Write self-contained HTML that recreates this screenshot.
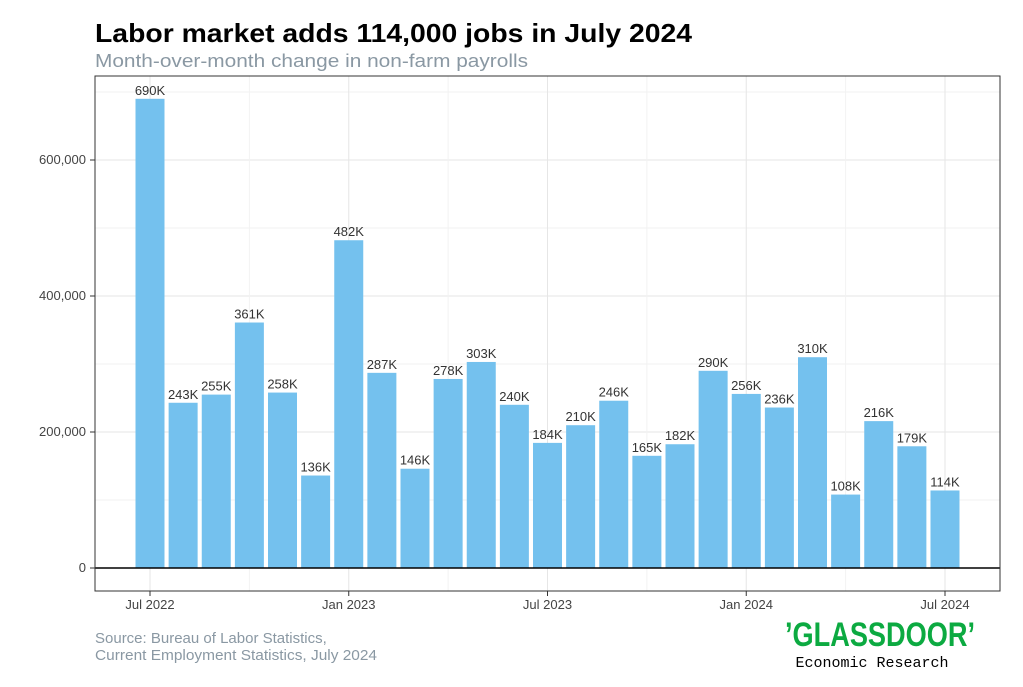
<!DOCTYPE html>
<html><head><meta charset="utf-8"><style>
body{margin:0;background:#fff;font-family:"Liberation Sans",sans-serif;}
svg text{font-family:"Liberation Sans",sans-serif;}
</style></head><body>
<svg width="1023" height="682" xmlns="http://www.w3.org/2000/svg">
<text x="95" y="42" font-size="26" font-weight="bold" fill="#000" textLength="597" lengthAdjust="spacingAndGlyphs">Labor market adds 114,000 jobs in July 2024</text>
<text x="95" y="67" font-size="18" fill="#8a98a3" textLength="433" lengthAdjust="spacingAndGlyphs">Month-over-month change in non-farm payrolls</text>
<g id="grid"></g>
<g id="bars"></g>
<g id="labels"></g>
<line x1="95" x2="1000" y1="568" y2="568" stroke="#000" stroke-width="1.5"/>
<rect x="95" y="76" width="905" height="515" fill="none" stroke="#333" stroke-width="1"/>
<g id="axes"></g>
<text x="95" y="643" font-size="15" fill="#8a98a3">Source: Bureau of Labor Statistics,</text>
<text x="95" y="660" font-size="15" fill="#8a98a3" textLength="282" lengthAdjust="spacingAndGlyphs"> Current Employment Statistics, July 2024</text>
<text x="880" y="646" font-size="34" font-weight="bold" fill="#0caa41" text-anchor="middle" textLength="190" lengthAdjust="spacingAndGlyphs">’GLASSDOOR’</text>
<text x="872" y="667" font-size="15" fill="#000" text-anchor="middle" font-family="Liberation Mono" style="font-family:'Liberation Mono',monospace">Economic Research</text>
</svg>
<script>
const months=["2022-07","2022-08","2022-09","2022-10","2022-11","2022-12","2023-01","2023-02","2023-03","2023-04","2023-05","2023-06","2023-07","2023-08","2023-09","2023-10","2023-11","2023-12","2024-01","2024-02","2024-03","2024-04","2024-05","2024-06","2024-07"];
const values=[690,243,255,361,258,136,482,287,146,278,303,240,184,210,246,165,182,290,256,236,310,108,216,179,114];
const yTicks=[0,200000,400000,600000];
const yTickLabels=["0","200,000","400,000","600,000"];
const xTickIdx=[0,6,12,18,24];
const xTickLabels=["Jul 2022","Jan 2023","Jul 2023","Jan 2024","Jul 2024"];
const NS="http://www.w3.org/2000/svg";
const x=i=>150+i*33.125;
const y=v=>568-v/200000*136;
function mk(t,a,p){const e=document.createElementNS(NS,t);for(const k in a)e.setAttribute(k,a[k]);p.appendChild(e);return e;}
const grid=document.getElementById('grid'),bars=document.getElementById('bars'),labs=document.getElementById('labels'),axes=document.getElementById('axes');
for(let v=-100000;v<=700000;v+=100000){if(y(v)<76||y(v)>591)continue;const l=mk('line',{x1:95,x2:1000,y1:y(v),y2:y(v),stroke:v%200000===0?'#e6e6e6':'#f2f2f2','stroke-width':1},grid);

}
for(let i=-3;i<=27;i+=3){if(x(i)<95||x(i)>1000)continue;const l=mk('line',{x1:x(i),x2:x(i),y1:76,y2:591,stroke:i%6===0?'#e6e6e6':'#f2f2f2','stroke-width':1},grid);

}
values.forEach((v,i)=>{const r=mk('rect',{x:x(i)-14.5,y:y(v*1000),width:29,height:568-y(v*1000),fill:'#74c1ee'},bars);


const t=mk('text',{x:x(i),y:y(v*1000)-4,'font-size':13,'text-anchor':'middle',fill:'#333'},labs);t.textContent=v+'K';

});
yTicks.forEach((v,i)=>{const l=mk('line',{x1:90,x2:95,y1:y(v),y2:y(v),stroke:'#333'},axes);


const t=mk('text',{x:86,y:y(v)+4,'font-size':13,'text-anchor':'end',fill:'#444'},axes);t.textContent=yTickLabels[i];

});
xTickIdx.forEach((k,i)=>{const l=mk('line',{x1:x(k),x2:x(k),y1:591,y2:596,stroke:'#333'},axes);


const t=mk('text',{x:x(k),y:609,'font-size':13,'text-anchor':'middle',fill:'#444'},axes);t.textContent=xTickLabels[i];

});
</script>
</body></html>
